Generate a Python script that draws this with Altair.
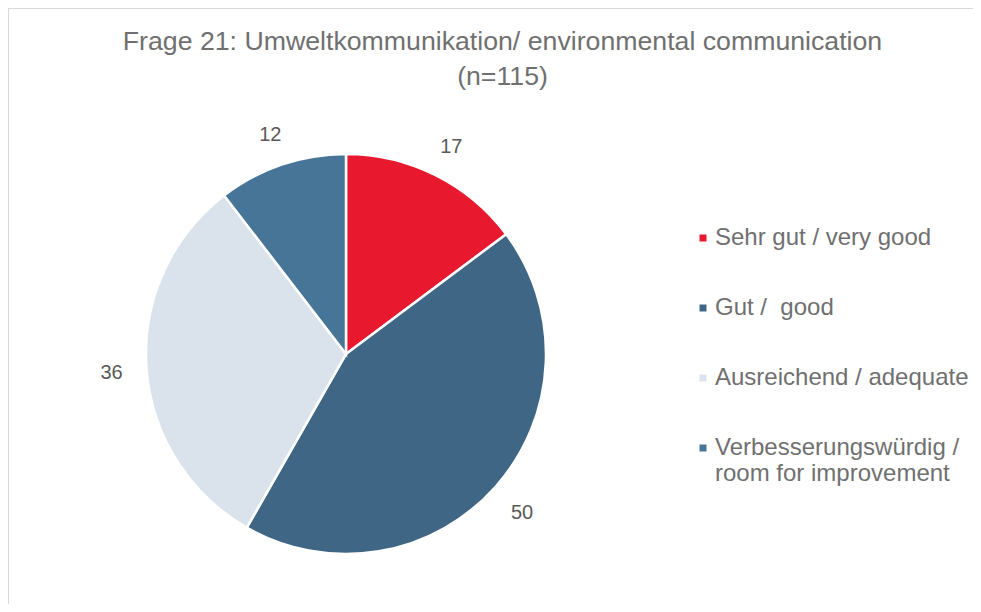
import altair as alt
import pandas as pd

categories = ["Sehr gut / very good", "Gut /  good", "Ausreichend / adequate",
              "Verbesserungswürdig / room for improvement"]
values = [17, 50, 36, 12]
colors = ["#E8192F", "#3F6685", "#DAE3EC", "#467598"]
title_lines = ["Frage 21: Umweltkommunikation/ environmental communication", "(n=115)"]

df = pd.DataFrame({"category": categories, "value": values, "idx": list(range(len(values)))})

W, H = 965, 596
CX, CY = 338, 346
FONT = "Liberation Sans"
GREY = "#595959"
LIGHT_GREY = "#707070"

base = alt.Chart(df).encode(
    theta=alt.Theta("value:Q", stack=True),
    order=alt.Order("idx:Q", sort="ascending"),
    x=alt.value(CX),
    y=alt.value(CY),
)

pie = base.mark_arc(radius=200, stroke="white", strokeWidth=2.5).encode(
    color=alt.Color(
        "category:N",
        scale=alt.Scale(domain=categories, range=colors),
        sort=categories,
        legend=alt.Legend(
            title=None,
            orient="none",
            legendX=683,
            legendY=218,
            symbolType="square",
            symbolSize=49,
            symbolStrokeWidth=0,
            labelFont=FONT,
            labelFontSize=24,
            labelColor=LIGHT_GREY,
            labelOffset=0,
            labelLimit=400,
            rowPadding=46,
            padding=0,
            labelExpr="split(replace(replace(datum.label, '  ', ' \u00a0'), ' / room', ' /|room'), '|')",
        ),
    )
)

labels = base.mark_text(radius=235, font=FONT, fontSize=20, color=GREY, dy=3).encode(
    text=alt.Text("value:Q")
)

border_df = pd.DataFrame({"k": [0]})
top_rule = alt.Chart(border_df).mark_rule(color="#D9D9D9", strokeWidth=2).encode(
    x=alt.value(0), x2=alt.value(W), y=alt.value(0)
)
left_rule = alt.Chart(border_df).mark_rule(color="#D9D9D9", strokeWidth=2).encode(
    x=alt.value(0), y=alt.value(0), y2=alt.value(H)
)

chart = alt.layer(top_rule, left_rule, pie, labels).properties(
    width=W,
    height=H,
    autosize=alt.AutoSizeParams(type="none"),
    padding=0,
    title=alt.TitleParams(
        text=title_lines,
        font=FONT,
        fontSize=26.7,
        fontWeight="normal",
        color=LIGHT_GREY,
        anchor="middle",
        frame="group",
        offset=-84,
        lineHeight=35,
        dx=12,
    ),
).configure_view(stroke=None)

chart.save("out.html", embed_options={"renderer": "svg", "actions": False})
